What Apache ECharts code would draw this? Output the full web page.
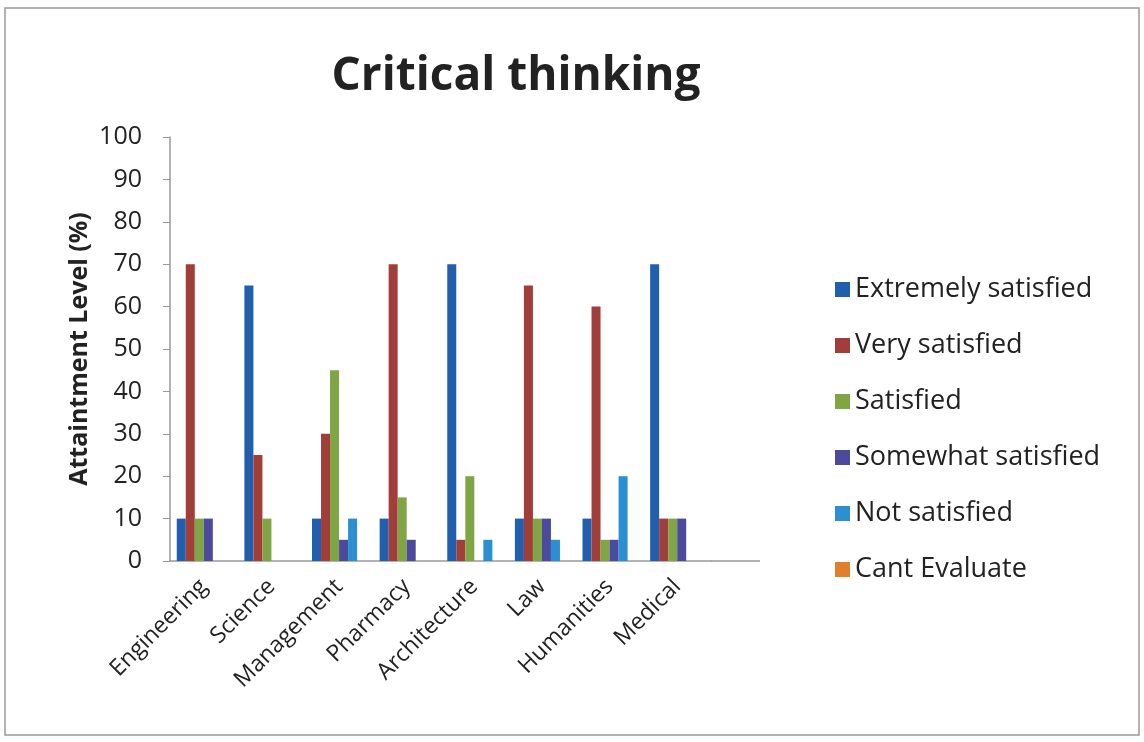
<!DOCTYPE html>
<html>
<head>
<meta charset="utf-8">
<script src="https://cdn.jsdelivr.net/npm/echarts@6/dist/echarts.min.js"></script>
<style>
  html, body { margin: 0; padding: 0; background: #fff; }
  #chart { width: 1144px; height: 742px; }
</style>
</head>
<body>
<div id="chart"></div>
<script>
// 类目
var categories = ['Engineering', 'Science', 'Management', 'Pharmacy', 'Architecture', 'Law', 'Humanities', 'Medical'];
// 各系列数据
var extremelySatisfied = [10, 65, 10, 10, 70, 10, 10, 70];
var verySatisfied = [70, 25, 30, 70, 5, 65, 60, 10];
var satisfied = [10, 10, 45, 15, 20, 10, 5, 10];
var somewhatSatisfied = [10, 0, 5, 5, 0, 10, 5, 10];
var notSatisfied = [0, 0, 10, 0, 5, 5, 20, 0];
var cantEvaluate = [0, 0, 0, 0, 0, 0, 0, 0];
var seriesNames = ['Extremely satisfied', 'Very satisfied', 'Satisfied', 'Somewhat satisfied', 'Not satisfied', 'Cant Evaluate'];
var seriesData = [extremelySatisfied, verySatisfied, satisfied, somewhatSatisfied, notSatisfied, cantEvaluate];
var myColor = ['#215fae', '#a23e3a', '#7fa544', '#4b4a9c', '#2b8fd1', '#e0802c'];

var myChart = echarts.init(document.getElementById('chart'));
var font = '"Open Sans", "Liberation Sans", sans-serif';

var option = {
  color: myColor,
  animation: false,
  textStyle: { fontFamily: font },
  title: {
    text: 'Critical thinking',
    left: 511,
    top: 49,
    textAlign: 'center',
    textStyle: { fontSize: 46, fontWeight: 'bold', color: '#222', fontFamily: font }
  },
  // 外框 和 x轴延长线
  graphic: [{
    type: 'rect',
    shape: { x: 5, y: 8, width: 1134, height: 727 },
    style: { fill: 'none', stroke: '#999', lineWidth: 1.5 }
  }, {
    type: 'line',
    shape: { x1: 711, y1: 561, x2: 760, y2: 561 },
    style: { stroke: '#999', lineWidth: 1.5 }
  }],
  legend: {
    orient: 'vertical',
    left: 830,
    top: 271,
    itemWidth: 15,
    itemHeight: 15,
    itemGap: 29,
    icon: 'rect',
    textStyle: { fontSize: 27, color: '#222', fontFamily: font }
  },
  grid: {
    left: 170,
    right: 433,
    top: 137,
    bottom: 181
  },
  xAxis: {
    type: 'category',
    data: categories,
    axisTick: { show: false },
    axisLine: { lineStyle: { color: '#999', width: 1.5 } },
    axisLabel: {
      rotate: 45,
      interval: 0,
      fontSize: 23,
      color: '#222',
      margin: 22
    }
  },
  yAxis: {
    type: 'value',
    name: 'Attaintment Level (%)',
    nameLocation: 'middle',
    nameGap: 78,
    nameTextStyle: { fontSize: 25, fontWeight: 'bold', color: '#222' },
    min: 0,
    max: 100,
    interval: 10,
    axisLine: { show: true, lineStyle: { color: '#999', width: 1.5 } },
    axisTick: { show: true, length: 7, lineStyle: { color: '#999' } },
    splitLine: { show: false },
    axisLabel: { fontSize: 25, color: '#222', margin: 28 }
  },
  series: seriesNames.map(function (name, i) {
    return {
      name: name,
      type: 'bar',
      data: seriesData[i],
      barGap: '0%',
      barCategoryGap: '20%'
    };
  })
};
myChart.setOption(option);
</script>
</body>
</html>
